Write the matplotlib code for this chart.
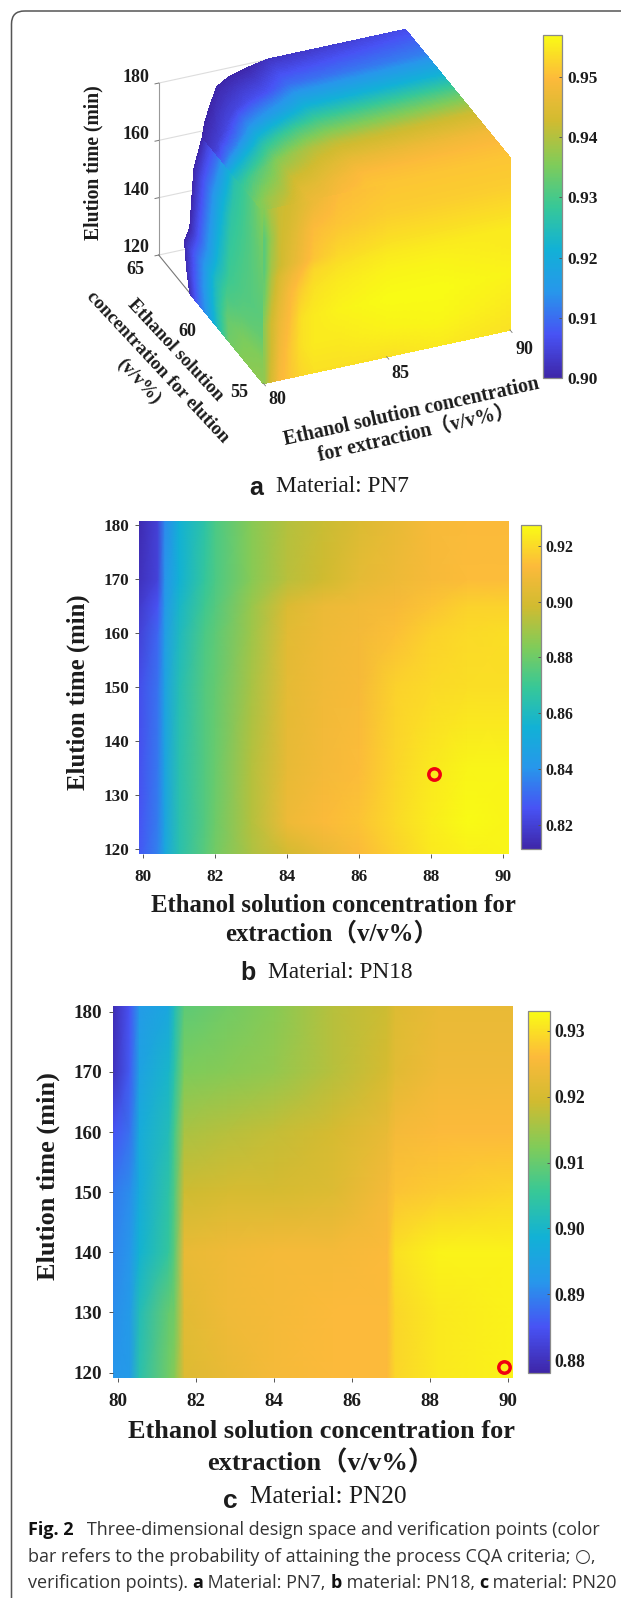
import numpy as np
import matplotlib
matplotlib.use('Agg')
import matplotlib.pyplot as plt
from matplotlib.colors import LinearSegmentedColormap, Normalize
from matplotlib.cm import ScalarMappable
from matplotlib.patches import FancyBboxPatch
from matplotlib.transforms import Affine2D
from mpl_toolkits.mplot3d import proj3d

W, H = 621, 1598
SERIF = ['Liberation Serif', 'Noto Sans CJK SC']
INK = '#1c1c1c'

# ---------- data: panel a (3D design space) ----------
a_ext_ticks = [80, 85, 90]
a_elu_ticks = [55, 60, 65]
a_time_ticks = [120, 140, 160, 180]
a_cbar_ticks = [0.90, 0.91, 0.92, 0.93, 0.94, 0.95]
a_clim = (0.90, 0.957)

front_ext = [80, 80.3, 80.6, 81, 81.5, 82, 83, 85, 87, 90]
front_time = [120, 130, 140, 150, 156, 160, 170, 180]
front_vals = [
    [.937, .944, .949, .951, .953, .954, .954, .954, .955, .954],
    [.937, .943, .948, .951, .954, .955, .955, .956, .9565, .955],
    [.937, .943, .947, .950, .954, .955, .956, .957, .957, .956],
    [.934, .941, .945, .949, .952, .954, .955, .956, .956, .955],
    [.933, .940, .944, .947, .950, .953, .954, .955, .955, .955],
    [.932, .939, .942, .945, .948, .951, .953, .954, .954, .954],
    [.932, .938, .942, .944, .947, .950, .951, .952, .952, .952],
    [.936, .940, .942, .943, .945, .947, .950, .951, .951, .951],
]
side_time = [120, 127.5, 136, 143, 165.5, 180]
side_elu_max = [62, 62.3, 62.5, 62, 61.6, 60.8]
side_frac = [0, .25, .45, .6, .75, .9, 1]
side_vals = [
    [.937, .936, .934, .925, .915, .908, .901],
    [.936, .935, .933, .925, .915, .907, .901],
    [.933, .932, .930, .924, .914, .906, .900],
    [.932, .931, .929, .923, .914, .906, .900],
    [.934, .930, .927, .920, .912, .905, .900],
    [.936, .930, .926, .918, .910, .905, .900],
]
top_ext = [80, 80.5, 81.3, 81.9, 82.6, 83.4, 84.4, 90]
top_elu_max = [60.8, 61.75, 63, 63.9, 64.4, 64.7, 65, 65]
top_frac = [0, .1, .2, .35, .5, .65, .8, 1]
top_vals = [
    [.936, .935, .932, .928, .922, .910, .904, .900],
    [.940, .938, .935, .930, .922, .911, .904, .900],
    [.944, .941, .938, .933, .924, .912, .905, .900],
    [.947, .945, .942, .936, .926, .914, .905, .900],
    [.948, .946, .943, .938, .928, .915, .906, .900],
    [.950, .948, .945, .940, .930, .917, .907, .900],
    [.951, .950, .947, .941, .931, .920, .910, .902],
    [.951, .950, .948, .942, .932, .921, .912, .906],
]

# ---------- data: panel b ----------
b_ext = [79.88, 80.4, 80.6, 81, 81.7, 82, 83, 84, 85, 86, 87, 88, 89, 90.14]
b_time = [119.13, 125, 135, 150, 160, 165, 170, 180.8]
b_vals = [
    [.827, .836, .849, .864, .876, .881, .892, .899, .906, .912, .918, .923, .925, .926],
    [.826, .835, .848, .864, .875, .880, .893, .908, .912, .915, .920, .924, .927, .926],
    [.825, .834, .848, .864, .875, .879, .893, .906, .910, .913, .919, .923, .926, .926],
    [.824, .833, .847, .863, .875, .878, .891, .905, .909, .911, .918, .920, .921, .921],
    [.820, .830, .844, .860, .873, .877, .889, .904, .908, .910, .914, .918, .920, .921],
    [.818, .826, .842, .858, .871, .875, .888, .902, .907, .909, .911, .915, .918, .918],
    [.815, .821, .840, .855, .868, .873, .885, .894, .898, .905, .908, .911, .913, .913],
    [.813, .820, .838, .855, .866, .873, .885, .893, .897, .902, .906, .911, .912, .912],
]
b_clim = (0.8113, 0.9274)
b_cbar_ticks = [0.82, 0.84, 0.86, 0.88, 0.90, 0.92]
b_point = (88.07, 133.9)

# ---------- data: panel c ----------
c_ext = [79.87, 80.3, 80.55, 81.3, 81.45, 81.7, 82.8, 84, 85.5, 86.9, 87.1, 88.2, 90.13]
c_time = [119.1, 130, 140, 150, 160, 170, 181]
c_vals = [
    [.892, .893, .903, .911, .913, .921, .923, .925, .926, .926, .929, .931, .932],
    [.891, .893, .902, .910, .911, .922, .924, .925, .926, .926, .929, .931, .932],
    [.890, .892, .899, .905, .909, .923, .924, .925, .925, .926, .930, .932, .932],
    [.889, .891, .897, .904, .908, .919, .920, .920, .921, .925, .927, .928, .929],
    [.885, .888, .897, .902, .907, .916, .917, .918, .920, .923, .925, .926, .926],
    [.880, .886, .895, .900, .904, .912, .913, .914, .917, .920, .922, .924, .924],
    [.879, .885, .893, .896, .902, .909, .911, .913, .917, .919, .921, .923, .923],
]
c_clim = (0.8781, 0.933)
c_cbar_ticks = [0.88, 0.89, 0.90, 0.91, 0.92, 0.93]
c_point = (89.9, 121.0)

heat_x_ticks = [80, 82, 84, 86, 88, 90]
heat_y_ticks = [120, 130, 140, 150, 160, 170, 180]

parula = LinearSegmentedColormap.from_list('parula', [
    (0.2422, 0.1504, 0.6603), (0.2810, 0.3228, 0.9579), (0.1540, 0.5902, 0.9218),
    (0.0689, 0.6948, 0.8394), (0.2161, 0.7843, 0.5923), (0.5044, 0.7993, 0.3480),
    (0.8185, 0.7327, 0.1882), (0.9892, 0.7300, 0.2300), (0.9769, 0.9839, 0.0805)], N=256)

fig = plt.figure(figsize=(W / 100, H / 100), dpi=100, facecolor='white')


def box(l, t, r, b):
    return [l / W, 1 - b / H, (r - l) / W, (b - t) / H]


def txt(px, py, s, **kw):
    kw.setdefault('ha', 'center')
    kw.setdefault('va', 'center')
    kw.setdefault('color', INK)
    return fig.text(px / W, 1 - py / H, s, **kw)


def colorbar(rect, clim, ticks, size, pad):
    cax = fig.add_axes(box(*rect))
    sm = ScalarMappable(norm=Normalize(*clim), cmap=parula)
    cb = fig.colorbar(sm, cax=cax, ticks=ticks)
    cb.outline.set_edgecolor('#8a8a8a')
    cb.outline.set_linewidth(0.9)
    cb.ax.tick_params(length=2, width=0.7, color='#555555', direction='in', pad=pad)
    cb.ax.set_yticklabels([f'{v:.2f}' for v in ticks], family=SERIF, weight='bold',
                          size=size, color=INK)


def heat(rect, xlim, ylim, ext, time, vals, clim, point, size, xpad, ypad):
    ax = fig.add_axes(box(*rect))
    ax.pcolormesh(ext, time, np.array(vals), shading='gouraud', cmap=parula,
                  norm=Normalize(*clim), rasterized=True)
    ax.plot(*point, 'o', ms=8.2, mfc='none', mec='#f00010', mew=2.5, zorder=5, clip_on=False)
    ax.set_xlim(*xlim)
    ax.set_ylim(*ylim)
    for sp in ax.spines.values():
        sp.set_visible(False)
    ax.set_xticks(heat_x_ticks)
    ax.set_yticks(heat_y_ticks)
    ax.tick_params(axis='x', length=3.2, width=0.7, color='#555555', pad=xpad)
    ax.tick_params(axis='y', length=3.2, width=0.7, color='#555555', pad=ypad)
    for lab in ax.get_xticklabels() + ax.get_yticklabels():
        lab.set(family=SERIF, weight='bold', size=size, color=INK)
    return ax


def refine(a, n):
    a = np.asarray(a, float)
    return np.interp(np.linspace(0, len(a) - 1, n), np.arange(len(a)), a)


def refine2(v, n_r, n_c):
    v = np.asarray(v, float)
    rows = np.array([np.interp(np.linspace(0, v.shape[1] - 1, n_c), np.arange(v.shape[1]), r) for r in v])
    return np.array([np.interp(np.linspace(0, v.shape[0] - 1, n_r), np.arange(v.shape[0]), c) for c in rows.T]).T


# ---------- card frame ----------
px_tr = Affine2D().scale(1 / W, -1 / H).translate(0, 1) + fig.transFigure
fig.add_artist(FancyBboxPatch((11.5, 11), 800, 1800, boxstyle='round,pad=0,rounding_size=13',
                              fc='none', ec='#555555', lw=1.1, transform=px_tr))

# ---------- panel a ----------
size0 = 520
ax3 = fig.add_axes(box(50, 0, 50 + size0, size0), projection='3d')
ax3.set_proj_type('ortho')
ax3.set_box_aspect((1, 1.01, 0.75))
ax3.view_init(elev=31, azim=-112.8)
ax3.set_xlim(80, 90, view_margin=0)
ax3.set_ylim(55, 65, view_margin=0)
ax3.set_zlim(120, 180, view_margin=0)
ax3.set_axis_off()
ax3.patch.set_visible(False)
ax3.computed_zorder = False


def to_px(x, y, z):
    ax3.apply_aspect()
    tx, ty, _ = proj3d.proj_transform(x, y, z, ax3.get_proj())
    return ax3.transData.transform((tx, ty))


tA = np.array([263.4, H - 383.3])
tB = np.array([510.0, H - 330.0])
k = np.linalg.norm(tB - tA) / np.linalg.norm(to_px(90, 55, 120) - to_px(80, 55, 120))
size1 = size0 * k
ax3.set_position(box(50, 0, 50 + size1, size1))
off = tA - to_px(80, 55, 120)
ax3.set_position(box(50 + off[0], -off[1], 50 + off[0] + size1, size1 - off[1]))

norm_a = Normalize(*a_clim)
N = 130
# side, top and front faces of the design space
Tr = refine(side_time, N)
Er = refine(side_elu_max, N)
Fr = refine(side_frac, N)
Es = 55 + np.outer(Er - 55, Fr)
Ts = np.repeat(Tr[:, None], N, axis=1)
ax3.plot_surface(np.full_like(Es, 80.0), Es, Ts, facecolors=parula(norm_a(refine2(side_vals, N, N))),
                 rstride=1, cstride=1, shade=False, antialiased=False, linewidth=0.5, zorder=3)
Xr = refine(top_ext, N)
Er = refine(top_elu_max, N)
Fr = refine(top_frac, N)
Et = 55 + np.outer(Er - 55, Fr)
Xt = np.repeat(Xr[:, None], N, axis=1)
ax3.plot_surface(Xt, Et, np.full_like(Et, 180.0), facecolors=parula(norm_a(refine2(top_vals, N, N))),
                 rstride=1, cstride=1, shade=False, antialiased=False, linewidth=0.5, zorder=3)
Xf, Tf = np.meshgrid(refine(front_ext, N), refine(front_time, N))
ax3.plot_surface(Xf, np.full_like(Xf, 55.0), Tf, facecolors=parula(norm_a(refine2(front_vals, N, N))),
                 rstride=1, cstride=1, shade=False, antialiased=False, linewidth=0.5, zorder=4)
# axes and grid lines behind the surface
for t in a_time_ticks:
    ax3.plot([80, 85], [65, 65], [t, t], color='#dddddd', lw=0.8, zorder=1)
    ax3.plot([80, 79.85], [65, 65], [t, t], color='#777777', lw=0.7, zorder=1)
ax3.plot([80, 80], [65, 65], [120, 180], color='#999999', lw=0.8, zorder=1)
ax3.plot([80, 80], [55, 65], [120, 120], color='#777777', lw=0.8, zorder=1)
for e in a_ext_ticks:
    ax3.plot([e, e], [55, 54.8], [120, 120], color='#777777', lw=0.6, zorder=5)

tk = dict(family=SERIF, weight='bold', size=13)
for lab, py in zip([180, 160, 140, 120], [77.3, 134.3, 190.7, 247.3]):
    txt(135.8, py, str(lab), **tk)
for lab, p in zip([65, 60, 55], [(135.8, 269), (187, 331.7), (238.8, 392.7)]):
    txt(*p, str(lab), **tk)
for lab, p in zip(a_ext_ticks, [(277, 399), (400.8, 373), (524, 349)]):
    txt(*p, str(lab), **tk)
lb = dict(family=SERIF, weight='bold')
txt(93.9, 163, 'Elution time (min)', rotation=90, size=14.1, **lb)
txt(175, 350, 'Ethanol solution', rotation=-47, size=13.5, rotation_mode='anchor', **lb)
txt(157.4, 366.7, 'concentration for elution', rotation=-47, size=13.6, rotation_mode='anchor', **lb)
txt(138.6, 381.7, '(v/v%)', rotation=-47, size=13.6, rotation_mode='anchor', **lb)
txt(411, 411.7, 'Ethanol solution concentration', rotation=12.5, size=14.3, rotation_mode='anchor', **lb)
txt(416, 434, 'for extraction（v/v%）', rotation=13, size=14.3, rotation_mode='anchor', **lb)
colorbar((542.6, 35, 561.6, 378), a_clim, a_cbar_ticks, 12.5, 4)

# ---------- panel b ----------
heat((139, 520.7, 508.5, 854), (79.88, 90.14), (119.13, 180.8), b_ext, b_time, b_vals, b_clim, b_point, 12.3, 7.8, 4)
colorbar((521.2, 525, 541, 849.3), b_clim, b_cbar_ticks, 11.4, 3)
txt(78.4, 691.7, 'Elution time (min)', rotation=90, size=17.8, **lb)
txt(333.9, 905, 'Ethanol solution concentration for', size=17.8, **lb)
txt(332, 934, 'extraction（v/v%）', size=17.8, **lb)

# ---------- panel c ----------
heat((112.9, 1005.7, 513.3, 1378), (79.87, 90.13), (119.1, 181), c_ext, c_time, c_vals, c_clim, c_point, 13.7, 7.5, 4.5)
colorbar((527.5, 1010.9, 550, 1372.9), c_clim, c_cbar_ticks, 12.7, 3.5)
txt(48.3, 1175.7, 'Elution time (min)', rotation=90, size=19, **lb)
txt(322, 1431, 'Ethanol solution concentration for', size=19, **lb)
txt(321, 1463, 'extraction（v/v%）', size=19, **lb)

# ---------- sub-captions ----------
sans_b = dict(family='Liberation Sans', weight='bold')
txt(256.6, 488, 'a', size=18, **sans_b)
txt(342.6, 487, 'Material: PN7', family=SERIF, size=16.8)
txt(247.5, 973, 'b', size=18, **sans_b)
txt(340, 973, 'Material: PN18', family=SERIF, size=16.8)
txt(230.5, 1501, 'c', size=19, **sans_b)
txt(328.7, 1497, 'Material: PN20', family=SERIF, size=18.2)

# ---------- figure caption ----------
CAP = 12.95
renderer = fig.canvas.get_renderer()


def runs(px, py, parts):
    x = px
    for s, bold in parts:
        t = txt(x, py, s.replace(' ', '\u00a0'), ha='left', va='baseline', size=CAP,
                family=['Open Sans', 'DejaVu Sans'],
                weight='bold' if bold else 'normal',
                color='#111111' if bold else '#333333')
        x = t.get_window_extent(renderer).x1


runs(27.7, 1535, [('Fig. 2', True), ('   Three-dimensional design space and verification points (color', False)])
runs(27.7, 1562, [('bar refers to the probability of attaining the process CQA criteria; ○,', False)])
runs(27.7, 1588, [('verification points). ', False), ('a', True), (' Material: PN7, ', False), ('b', True),
                  (' material: PN18, ', False), ('c', True), (' material: PN20', False)])

fig.savefig('out.png', dpi=100, facecolor='white')
